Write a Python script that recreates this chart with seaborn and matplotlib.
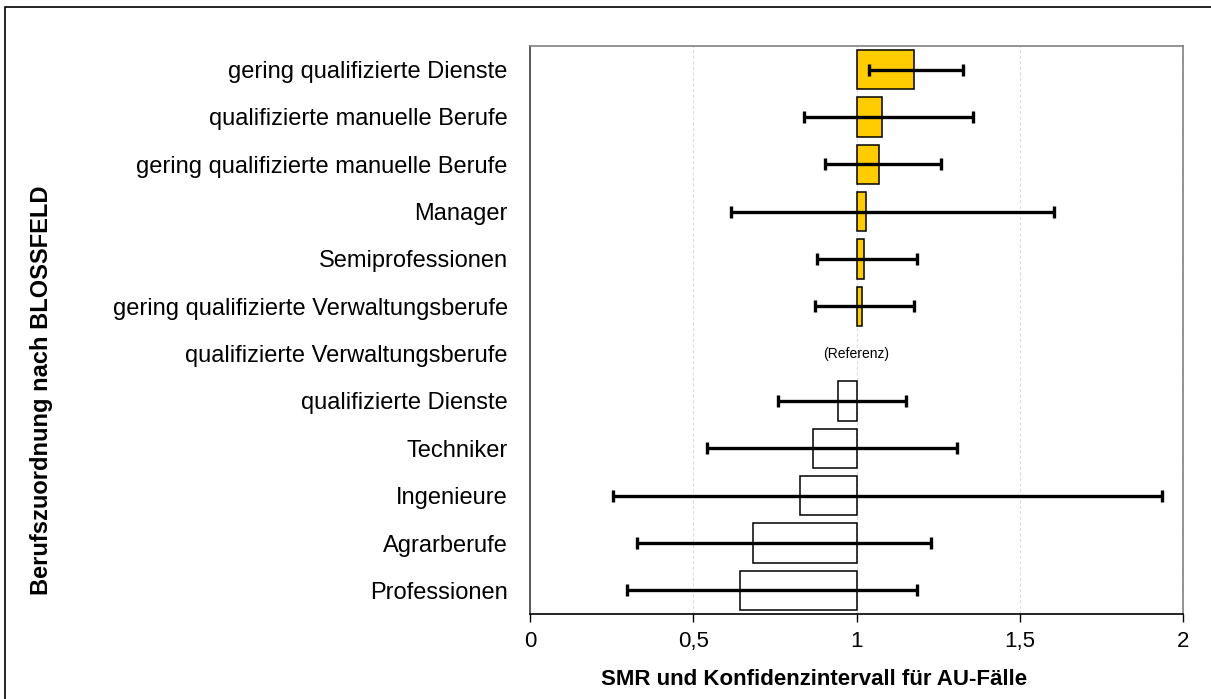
import matplotlib
matplotlib.use("Agg")
import matplotlib.pyplot as plt
from matplotlib.patches import Rectangle
import numpy as np
import pandas as pd
import seaborn as sns

BERUFE = [
    "gering qualifizierte Dienste",
    "qualifizierte manuelle Berufe",
    "gering qualifizierte manuelle Berufe",
    "Manager",
    "Semiprofessionen",
    "gering qualifizierte Verwaltungsberufe",
    "qualifizierte Verwaltungsberufe",
    "qualifizierte Dienste",
    "Techniker",
    "Ingenieure",
    "Agrarberufe",
    "Professionen",
]
SMR = [1.176, 1.077, 1.069, 1.029, 1.024, 1.017, 1.0, 0.943, 0.868, 0.827, 0.682, 0.643]
KI_UNTEN = [1.039, 0.840, 0.903, 0.614, 0.878, 0.872, np.nan, 0.760, 0.541, 0.253, 0.329, 0.298]
KI_OBEN = [1.325, 1.357, 1.258, 1.605, 1.186, 1.177, np.nan, 1.153, 1.307, 1.937, 1.229, 1.185]
REFERENZ = "qualifizierte Verwaltungsberufe"

sns.set_theme(style="white")
plt.rcParams["font.family"] = ["Liberation Sans", "DejaVu Sans"]
plt.rcParams["text.color"] = "black"
plt.rcParams["xtick.color"] = "black"
plt.rcParams["ytick.color"] = "black"
plt.rcParams["axes.labelcolor"] = "black"

df = pd.DataFrame({"beruf": BERUFE, "smr": SMR, "lo": KI_UNTEN, "hi": KI_OBEN})
df["diff"] = df["smr"] - 1
df["gruppe"] = np.where(df["smr"] >= 1, "hoch", "niedrig")

fig = plt.figure(figsize=(12.11, 6.99), dpi=100)
ax = fig.add_axes([0.4377, 0.1216, 0.5392, 0.8126])

sns.barplot(
    data=df, y="beruf", x="diff", hue="gruppe", order=BERUFE,
    palette={"hoch": "#FFCC00", "niedrig": "white"}, saturation=1,
    orient="h", width=0.83, left=1, edgecolor="black", linewidth=1.1,
    dodge=False, legend=False, errorbar=None, ax=ax,
)
# Referenzgruppe: Balken der Breite 0 nicht zeichnen
for p in ax.patches:
    if abs(p.get_width()) < 1e-9:
        p.set_visible(False)

pos = np.arange(len(BERUFE))
ok = ~df["lo"].isna()
ax.errorbar(
    df.loc[ok, "smr"], pos[ok.values],
    xerr=[df.loc[ok, "smr"] - df.loc[ok, "lo"], df.loc[ok, "hi"] - df.loc[ok, "smr"]],
    fmt="none", ecolor="black", elinewidth=2.4, capsize=4.5, capthick=2.4, zorder=5,
)
ax.text(1, BERUFE.index(REFERENZ), "(Referenz)", ha="center", va="center", fontsize=10)

ax.set_xlim(0, 2)
ax.set_ylim(len(BERUFE) - 0.5, -0.5)
ax.set_xticks([0, 0.5, 1, 1.5, 2])
ax.set_xticklabels(["0", "0,5", "1", "1,5", "2"], fontsize=16)
ax.tick_params(axis="x", length=6, width=1, color="black", bottom=True, pad=6)
ax.tick_params(axis="y", length=0, pad=16, labelsize=17)
ax.xaxis.grid(True, color="#dcdcdc", linestyle=(0, (3, 2)), linewidth=0.8)
ax.set_axisbelow(True)

for side in ["top", "right"]:
    ax.spines[side].set_color("#808080")
ax.spines["left"].set_color("#404040")
ax.spines["bottom"].set_color("black")
for s in ax.spines.values():
    s.set_linewidth(1.2)
    s.set_visible(True)

ax.set_xlabel("SMR und Konfidenzintervall für AU-Fälle", fontsize=16, fontweight="bold", labelpad=10)
ax.xaxis.set_label_coords(0.435, -0.097)
ax.set_ylabel("")
fig.text(0.034, 0.442, "Berufszuordnung nach BLOSSFELD", rotation=90, ha="center", va="center",
         fontsize=17, fontweight="bold")

# Rahmen um die Grafik (rechts und unten abgeschnitten)
fig.patches.append(Rectangle((0.004, -0.05), 1.1, 1.04, transform=fig.transFigure,
                             fill=False, edgecolor="black", linewidth=1.2))

fig.savefig("out.png", dpi=100)
